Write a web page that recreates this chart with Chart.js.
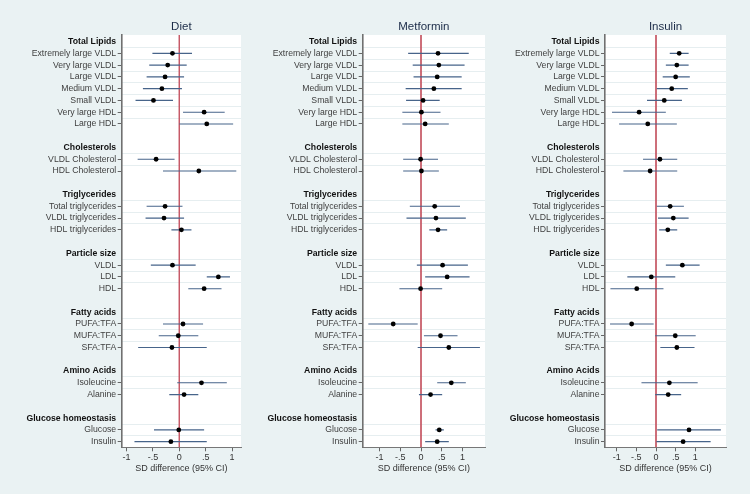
<!DOCTYPE html>
<html>
<head>
<meta charset="utf-8">
<script src="https://cdn.jsdelivr.net/npm/chart.js@4.4.0/dist/chart.umd.min.js"></script>
<style>
  html, body { margin: 0; padding: 0; background: #eaf2f3; }
  #wrap { position: relative; width: 750px; height: 494px; overflow: hidden; }
  canvas { position: absolute; top: 0; }
</style>
</head>
<body>
<div id="wrap">
  <canvas id="c0" width="245" height="494" style="left:0px"></canvas>
  <canvas id="c1" width="245" height="494" style="left:245px"></canvas>
  <canvas id="c2" width="260" height="494" style="left:490px"></canvas>
</div>
<script>
// rows of every panel, top to bottom ("" = spacer row)
const rowLabels = [
  "Total Lipids", "Extremely large VLDL", "Very large VLDL", "Large VLDL", "Medium VLDL",
  "Small VLDL", "Very large HDL", "Large HDL", "",
  "Cholesterols", "VLDL Cholesterol", "HDL Cholesterol", "",
  "Triglycerides", "Total triglycerides", "VLDL triglycerides", "HDL triglycerides", "",
  "Particle size", "VLDL", "LDL", "HDL", "",
  "Fatty acids", "PUFA:TFA", "MUFA:TFA", "SFA:TFA", "",
  "Amino Acids", "Isoleucine", "Alanine", "",
  "Glucose homeostasis", "Glucose", "Insulin"
];
const groupHeaders = ["Total Lipids", "Cholesterols", "Triglycerides", "Particle size",
  "Fatty acids", "Amino Acids", "Glucose homeostasis"];

const panelTitles = ["Diet", "Metformin", "Insulin"];

// estimates and 95% CI, one value per measure row (22)
const dietEst = [-0.13, -0.22, -0.27, -0.33, -0.49, 0.47, 0.52, -0.44, 0.37, -0.27, -0.29, 0.04,
  -0.13, 0.74, 0.47, 0.07, -0.02, -0.14, 0.42, 0.09, -0.01, -0.16];
const dietLo = [-0.51, -0.57, -0.62, -0.69, -0.83, 0.07, 0.00, -0.79, -0.31, -0.62, -0.64, -0.15,
  -0.54, 0.52, 0.17, -0.31, -0.39, -0.78, -0.04, -0.19, -0.48, -0.85];
const dietHi = [0.24, 0.14, 0.09, 0.05, -0.12, 0.86, 1.02, -0.09, 1.08, 0.06, 0.09, 0.23,
  0.31, 0.96, 0.80, 0.45, 0.36, 0.52, 0.90, 0.36, 0.47, 0.52];

const metEst = [0.41, 0.43, 0.39, 0.31, 0.05, 0.01, 0.10, -0.01, 0.01, 0.33, 0.36, 0.41,
  0.52, 0.63, -0.01, -0.67, 0.47, 0.67, 0.73, 0.23, 0.44, 0.39];
const metLo = [-0.31, -0.20, -0.18, -0.37, -0.36, -0.45, -0.45, -0.43, -0.43, -0.27, -0.35, 0.20,
  -0.10, 0.10, -0.52, -1.27, 0.07, -0.08, 0.39, -0.05, 0.35, 0.10];
const metHi = [1.15, 1.05, 0.98, 0.98, 0.45, 0.47, 0.67, 0.41, 0.43, 0.94, 1.08, 0.63,
  1.13, 1.17, 0.51, -0.08, 0.88, 1.42, 1.08, 0.51, 0.55, 0.67];

const insEst = [0.59, 0.53, 0.50, 0.40, 0.21, -0.43, -0.21, 0.10, -0.15, 0.36, 0.44, 0.30,
  0.67, -0.12, -0.49, -0.62, 0.49, 0.53, 0.34, 0.31, 0.84, 0.69];
const insLo = [0.35, 0.25, 0.17, 0.02, -0.23, -1.12, -0.94, -0.33, -0.83, 0.02, 0.05, 0.08,
  0.25, -0.73, -1.16, -1.17, -0.02, 0.11, -0.37, -0.02, 0.03, 0.01];
const insHi = [0.83, 0.83, 0.86, 0.81, 0.66, 0.25, 0.53, 0.54, 0.54, 0.71, 0.83, 0.54,
  1.11, 0.49, 0.19, -0.06, 1.01, 0.98, 1.06, 0.64, 1.65, 1.39];

const xTicks = [-1, -0.5, 0, 0.5, 1];
const xTickLabels = ["-1", "-.5", "0", ".5", "1"];
const xTitle = "SD difference (95% CI)";

const FONT = "'Liberation Sans', Arial, Helvetica, sans-serif";
const isHeader = (i) => groupHeaders.includes(rowLabels[i]);
const headerCtx = (c) => !!(c && c.tick && isHeader(c.tick.value));
const measureRows = rowLabels.map((l, i) => i).filter(i => rowLabels[i] !== "" && !isHeader(i));
const yMin = -0.56, yMax = 34.48;

const plotBg = {
  id: "plotBg",
  beforeDraw(chart) {
    const a = chart.chartArea, ctx = chart.ctx;
    ctx.save();
    ctx.fillStyle = "#ffffff";
    ctx.fillRect(a.left, a.top, a.right - a.left, a.bottom - a.top);
    ctx.restore();
  }
};

function makePanel(id, title, est, lo, hi, xMin, xMax, axisW, padR) {
  const ci = [];
  measureRows.forEach((r, k) => {
    ci.push({ x: lo[k], y: r }, { x: hi[k], y: r }, { x: NaN, y: NaN });
  });
  const pts = measureRows.map((r, k) => ({ x: est[k], y: r }));

  new Chart(document.getElementById(id), {
    type: "scatter",
    data: {
      datasets: [
        { data: pts, yAxisID: "y", pointRadius: 2.4, pointBackgroundColor: "#000",
          pointBorderWidth: 0, order: 0 },
        { data: ci, yAxisID: "y", showLine: true, spanGaps: false, pointRadius: 0,
          borderColor: "#47648a", borderWidth: 1.1, order: 1 },
        { data: [{ x: 0, y: yMin }, { x: 0, y: yMax }], yAxisID: "y", showLine: true,
          pointRadius: 0, borderColor: "#c65a66", borderWidth: 1, order: 2 }
      ]
    },
    options: {
      responsive: false,
      animation: false,
      layout: { padding: { left: 0, right: padR, top: 0, bottom: 20.7 } },
      plugins: {
        legend: { display: false },
        tooltip: { enabled: false },
        title: {
          display: true, text: title, fullSize: false, color: "#1c2c48",
          font: { family: FONT, size: 11.5, weight: "normal", lineHeight: 1.2 },
          padding: { top: 19.8, bottom: 1.4 }
        }
      },
      scales: {
        x: {
          type: "linear", min: xMin, max: xMax,
          afterBuildTicks: s => { s.ticks = xTicks.map(v => ({ value: v })); },
          ticks: {
            autoSkip: false, maxRotation: 0, padding: 2, color: "#333",
            font: { family: FONT, size: 9, lineHeight: 1 },
            callback: v => xTickLabels[xTicks.indexOf(v)]
          },
          grid: { drawOnChartArea: false, tickLength: 4, tickColor: "#666" },
          border: { color: "#777", width: 1 },
          title: { display: true, text: xTitle, color: "#333", padding: 0,
            font: { family: FONT, size: 9, lineHeight: 1 } }
        },
        y: {
          type: "linear", min: yMin, max: yMax, reverse: true,
          afterBuildTicks: s => {
            s.ticks = rowLabels.map((l, i) => ({ value: i })).filter(t => rowLabels[t.value] !== "");
          },
          afterFit: s => { s.width = axisW; },
          ticks: {
            autoSkip: false, padding: 1.5,
            color: c => headerCtx(c) ? "#111" : "#404040",
            font: c => ({ family: FONT, size: 8.7, weight: headerCtx(c) ? "bold" : "normal" }),
            callback: v => rowLabels[v]
          },
          grid: {
            drawOnChartArea: false, tickLength: 4,
            tickColor: c => headerCtx(c) ? "rgba(0,0,0,0)" : "#666"
          },
          border: { color: "#707070", width: 1.6 }
        },
        yg: {
          type: "linear", position: "right", min: yMin, max: yMax, reverse: true,
          afterBuildTicks: s => { s.ticks = measureRows.map(r => ({ value: r - 0.5 })); },
          afterFit: s => { s.width = 0; },
          ticks: { display: false },
          grid: { color: "#e6eef0", lineWidth: 1, drawTicks: false },
          border: { display: false }
        }
      }
    },
    plugins: [plotBg]
  });
}

makePanel("c0", panelTitles[0], dietEst, dietLo, dietHi, -1.092, 1.169, 121.7, 2);
makePanel("c1", panelTitles[1], metEst, metLo, metHi, -1.405, 1.542, 117.7, 5);
makePanel("c2", panelTitles[2], insEst, insLo, insHi, -1.298, 1.781, 115, 24);
</script>
</body>
</html>
